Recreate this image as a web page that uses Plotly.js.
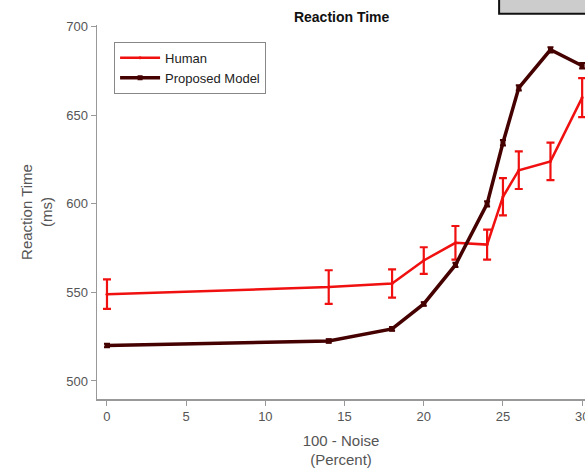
<!DOCTYPE html>
<html>
<head>
<meta charset="utf-8">
<script src="https://cdn.plot.ly/plotly-3.0.1.min.js"></script>
<style>html,body{margin:0;padding:0;background:#fff;}#chart{width:585px;height:474px;}</style>
</head>
<body>
<div id="chart"></div>
<script>
const noise = [0, 14, 18, 20, 22, 24, 25, 26, 28, 30];
const humanRT = [549, 553, 555, 568, 578, 577, 604, 619, 624, 660];
const humanErr = [8.3, 9.5, 8, 7.5, 9.5, 8.5, 10.5, 10.6, 10.6, 11];
const modelRT = [520, 522.6, 529.4, 543.5, 565.5, 600, 634.5, 665.5, 687, 678];
const modelErr = [1, 1, 1, 1, 1.2, 1.5, 1.5, 1.5, 1.5, 1.5];
const xTicks = [0, 5, 10, 15, 20, 25, 30];
const yTicks = [500, 550, 600, 650, 700];

const font = "Liberation Sans, Arial, sans-serif";
const grey = "#555555";

const traces = [
  {
    x: noise, y: humanRT, name: "Human", type: "scatter", mode: "lines+markers",
    line: {color: "#f01010", width: 2.5},
    marker: {color: "#f01010", size: 3},
    error_y: {type: "data", array: humanErr, visible: true, color: "#f01010", thickness: 2.2, width: 4}
  },
  {
    x: noise, y: modelRT, name: "Proposed Model", type: "scatter", mode: "lines+markers",
    line: {color: "#450000", width: 3.5},
    marker: {color: "#450000", size: 5, symbol: "square"},
    error_y: {type: "data", array: modelErr, visible: true, color: "#450000", thickness: 2, width: 3}
  }
];

const layout = {
  width: 585, height: 474,
  margin: {l: 97, r: 0, t: 25, b: 75},
  paper_bgcolor: "#ffffff", plot_bgcolor: "#ffffff",
  font: {family: font, color: grey, size: 13},
  showlegend: true,
  title: {text: "<b>Reaction Time</b>", font: {family: font, size: 14, color: "#111111"},
          x: 0.584, xanchor: "center", y: 0.964, yanchor: "middle"},
  xaxis: {
    range: [-0.63, 30.18], tickvals: xTicks, ticktext: xTicks.map(String),
    showgrid: false, zeroline: false, showline: true, linecolor: "#999999", linewidth: 1.5,
    ticks: "outside", ticklen: 5, tickcolor: "#999999", ticklabeloverflow: "allow",
    tickfont: {size: 13, color: grey},
    title: {text: "100 - Noise<br>(Percent)", font: {size: 15, color: grey}, standoff: 12}
  },
  yaxis: {
    range: [489.8, 701], tickvals: yTicks, ticktext: yTicks.map(String),
    showgrid: false, zeroline: false, showline: true, linecolor: "#999999", linewidth: 1.5,
    ticks: "outside", ticklen: 5, tickcolor: "#999999",
    tickfont: {size: 13, color: grey},
    title: {text: "Reaction Time<br>(ms)", font: {size: 15, color: grey}, standoff: 10}
  },
  legend: {
    x: 0.035, y: 0.955, xanchor: "left", yanchor: "top",
    bgcolor: "#ffffff", bordercolor: "#888888", borderwidth: 1,
    font: {size: 13, color: "#222222"}, tracegroupgap: 0, itemwidth: 40
  },
  shapes: [
    {type: "rect", xref: "paper", yref: "paper", x0: 0.824, x1: 1.01, y0: 1.03, y1: 1.08,
     fillcolor: "#cccccc", line: {color: "#111111", width: 2}}
  ]
};

Plotly.newPlot("chart", traces, layout, {displayModeBar: false, staticPlot: true});
</script>
</body>
</html>
